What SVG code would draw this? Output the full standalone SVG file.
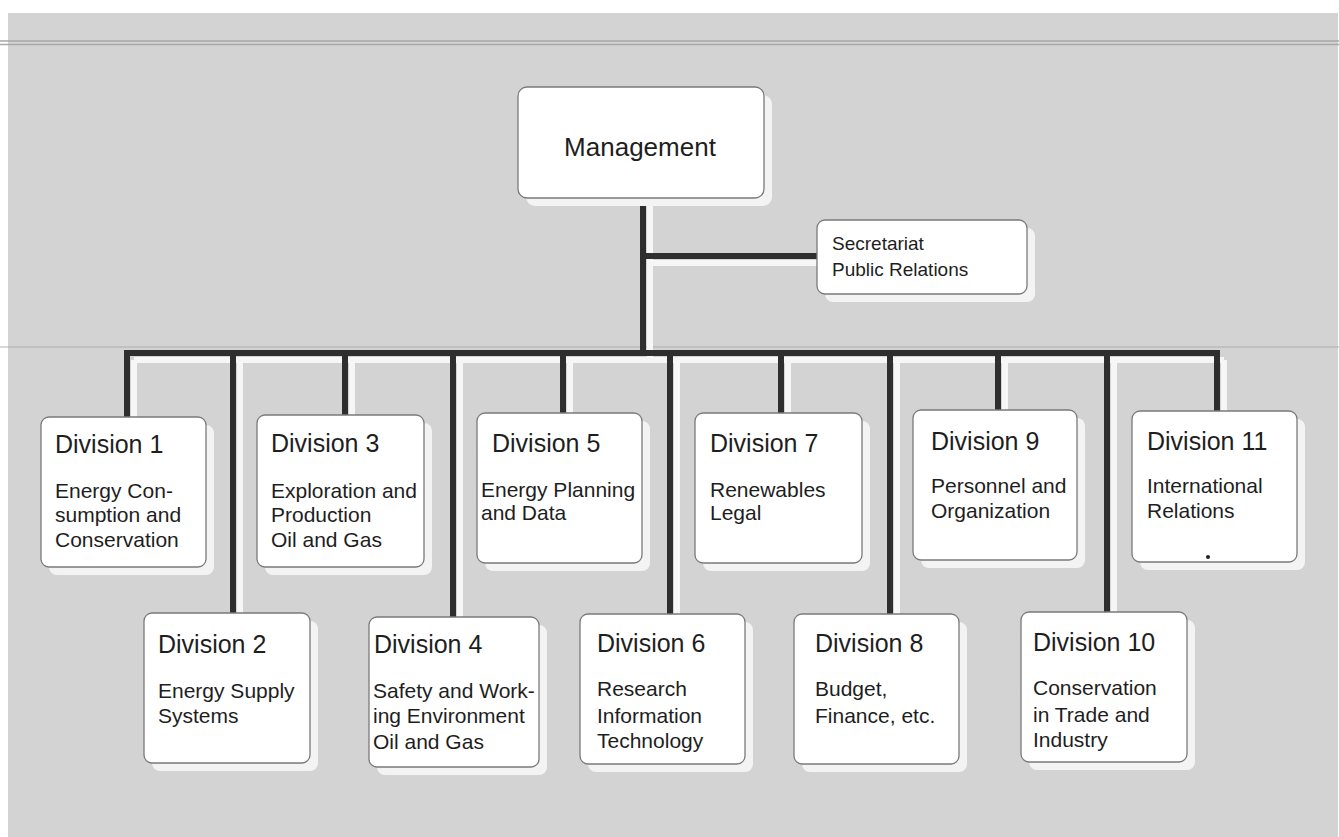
<svg xmlns="http://www.w3.org/2000/svg" width="1339" height="837" viewBox="0 0 1339 837">
<style>
.bg{fill:#d3d3d3}
.scan{stroke:#a8a8a8;stroke-width:1.5;fill:none}
.sh{fill:#f3f3f3}
.box{fill:#ffffff;stroke:#7a7a7a;stroke-width:1.3}
.lineS{stroke:#f6f6f6;stroke-width:6;fill:none}
.lineD{stroke:#2e2e2e;stroke-width:6;fill:none}
text{font-family:"Liberation Sans",Arial,Helvetica,sans-serif;fill:#1e1e1e}
.t{font-size:25px}
.b{font-size:21px}
.m{font-size:26px}
.s{font-size:19px}
</style>
<rect x="0" y="0" width="1339" height="837" fill="#ffffff"/>
<rect class="bg" x="8" y="13" width="1330" height="824"/>
<path class="scan" d="M0 41 H1339 M0 44.5 H1339"/>
<path class="scan" d="M0 347 H1339" stroke-opacity="0.6"/>

<g id="connectors">
  <path class="lineS" d="M650 198 V360 M650 263 H817 M134 360 H1224 M134 360 V417 M240 360 V613 M352 360 V415 M460 360 V617 M570 360 V413 M677 360 V614 M788 360 V413 M897 360 V614 M1005 360 V410 M1114 360 V612 M1224 360 V411"/>
  <path class="lineD" d="M643 198 V353 M643 256 H817 M124 353 H1220 M127 350 V417 M233 350 V613 M345 350 V415 M453 350 V617 M563 350 V413 M670 350 V614 M781 350 V413 M890 350 V614 M998 350 V410 M1107 350 V612 M1217 350 V411"/>
</g>

<g id="management">
  <rect class="sh" x="526" y="95" width="246" height="111" rx="9"/>
  <rect class="box" x="518" y="87" width="246" height="111" rx="9"/>
  <text class="m" x="640" y="156" text-anchor="middle">Management</text>
</g>

<g id="secretariat">
  <rect class="sh" x="825" y="228" width="210" height="74" rx="8"/>
  <rect class="box" x="817" y="220" width="210" height="74" rx="8"/>
  <text class="s" x="832" y="250">Secretariat</text>
  <text class="s" x="832" y="276">Public Relations</text>
</g>

<g id="division1">
  <rect class="sh" x="49" y="425" width="165" height="150" rx="8"/>
  <rect class="box" x="41" y="417" width="165" height="150" rx="8"/>
  <text class="t" x="55" y="453">Division 1</text>
  <text class="b" x="55" y="498">Energy Con-</text>
  <text class="b" x="55" y="522">sumption and</text>
  <text class="b" x="55" y="547">Conservation</text>
</g>

<g id="division2">
  <rect class="sh" x="152" y="621" width="166" height="150" rx="8"/>
  <rect class="box" x="144" y="613" width="166" height="150" rx="8"/>
  <text class="t" x="158" y="653">Division 2</text>
  <text class="b" x="158" y="698">Energy Supply</text>
  <text class="b" x="158" y="723">Systems</text>
</g>

<g id="division3">
  <rect class="sh" x="265" y="423" width="167" height="152" rx="8"/>
  <rect class="box" x="257" y="415" width="167" height="152" rx="8"/>
  <text class="t" x="271" y="452">Division 3</text>
  <text class="b" x="271" y="498">Exploration and</text>
  <text class="b" x="271" y="522">Production</text>
  <text class="b" x="271" y="547">Oil and Gas</text>
</g>

<g id="division4">
  <rect class="sh" x="377" y="625" width="170" height="150" rx="8"/>
  <rect class="box" x="369" y="617" width="170" height="150" rx="8"/>
  <text class="t" x="374" y="653">Division 4</text>
  <text class="b" x="373" y="698">Safety and Work-</text>
  <text class="b" x="373" y="723">ing Environment</text>
  <text class="b" x="373" y="749">Oil and Gas</text>
</g>

<g id="division5">
  <rect class="sh" x="485" y="421" width="165" height="150" rx="8"/>
  <rect class="box" x="477" y="413" width="165" height="150" rx="8"/>
  <text class="t" x="492" y="452">Division 5</text>
  <text class="b" x="481" y="497">Energy Planning</text>
  <text class="b" x="481" y="520">and Data</text>
</g>

<g id="division6">
  <rect class="sh" x="588" y="622" width="165" height="150" rx="8"/>
  <rect class="box" x="580" y="614" width="165" height="150" rx="8"/>
  <text class="t" x="597" y="652">Division 6</text>
  <text class="b" x="597" y="696">Research</text>
  <text class="b" x="597" y="723">Information</text>
  <text class="b" x="597" y="748">Technology</text>
</g>

<g id="division7">
  <rect class="sh" x="703" y="421" width="167" height="150" rx="8"/>
  <rect class="box" x="695" y="413" width="167" height="150" rx="8"/>
  <text class="t" x="710" y="452">Division 7</text>
  <text class="b" x="710" y="497">Renewables</text>
  <text class="b" x="710" y="520">Legal</text>
</g>

<g id="division8">
  <rect class="sh" x="802" y="622" width="165" height="150" rx="8"/>
  <rect class="box" x="794" y="614" width="165" height="150" rx="8"/>
  <text class="t" x="815" y="652">Division 8</text>
  <text class="b" x="815" y="696">Budget,</text>
  <text class="b" x="815" y="723">Finance, etc.</text>
</g>

<g id="division9">
  <rect class="sh" x="921" y="418" width="164" height="150" rx="8"/>
  <rect class="box" x="913" y="410" width="164" height="150" rx="8"/>
  <text class="t" x="931" y="450">Division 9</text>
  <text class="b" x="931" y="493">Personnel and</text>
  <text class="b" x="931" y="518">Organization</text>
</g>

<g id="division10">
  <rect class="sh" x="1029" y="620" width="166" height="150" rx="8"/>
  <rect class="box" x="1021" y="612" width="166" height="150" rx="8"/>
  <text class="t" x="1033" y="651">Division 10</text>
  <text class="b" x="1033" y="695">Conservation</text>
  <text class="b" x="1033" y="722">in Trade and</text>
  <text class="b" x="1033" y="747">Industry</text>
</g>

<g id="division11">
  <rect class="sh" x="1140" y="419" width="165" height="151" rx="8"/>
  <rect class="box" x="1132" y="411" width="165" height="151" rx="8"/>
  <text class="t" x="1147" y="450">Division 11</text>
  <text class="b" x="1147" y="493">International</text>
  <text class="b" x="1147" y="518">Relations</text>
  <circle cx="1208" cy="557" r="2" fill="#222"/>
</g>
</svg>
